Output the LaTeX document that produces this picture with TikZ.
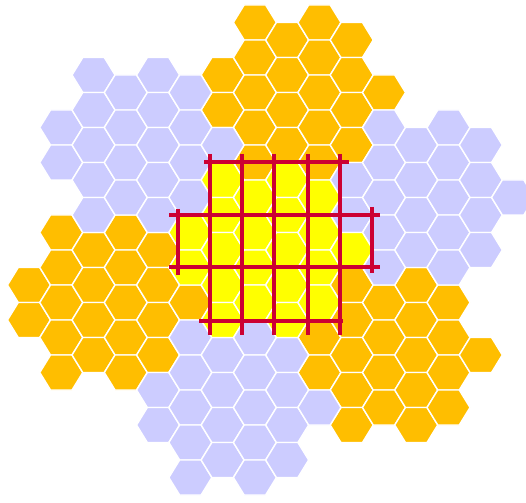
\documentclass[tikz,border=0pt]{standalone}
\definecolor{hexO}{RGB}{255,190,0}
\definecolor{hexL}{RGB}{204,204,255}
\definecolor{hexY}{RGB}{255,255,0}
\definecolor{gridred}{RGB}{204,0,51}
\tikzset{
  hexcell/.style={draw=white, line width=1.4pt, line join=round},
  redline/.style={draw=gridred, line width=3.1pt}
}
\begin{document}
\begin{tikzpicture}[x=1pt,y=-1pt]
\useasboundingbox (0,0) rectangle (526,502);
\foreach \c/\r/\col in {
 0/7/hexO,0/8/hexO, 1/6/hexO,1/7/hexO,1/8/hexO,1/9/hexO,1/10/hexO,
 2/6/hexO,2/7/hexO,2/8/hexO,2/9/hexO, 3/6/hexO,3/7/hexO,3/8/hexO,3/9/hexO,3/10/hexO,
 4/6/hexO,4/7/hexO,4/8/hexO,4/9/hexO, 5/8/hexO, 6/1/hexO,6/2/hexO,
 7/0/hexO,7/1/hexO,7/2/hexO,7/3/hexO,7/4/hexO, 8/0/hexO,8/1/hexO,8/2/hexO,8/3/hexO,
 9/0/hexO,9/1/hexO,9/2/hexO,9/3/hexO,9/4/hexO, 9/9/hexO,9/10/hexO,
 10/0/hexO,10/1/hexO,10/2/hexO,10/3/hexO, 10/7/hexO,10/8/hexO,10/9/hexO,10/10/hexO,10/11/hexO,
 11/2/hexO, 11/8/hexO,11/9/hexO,11/10/hexO,11/11/hexO,
 12/7/hexO,12/8/hexO,12/9/hexO,12/10/hexO,12/11/hexO,
 13/8/hexO,13/9/hexO,13/10/hexO,13/11/hexO, 14/9/hexO,
 1/3/hexL,1/4/hexL, 2/1/hexL,2/2/hexL,2/3/hexL,2/4/hexL,2/5/hexL,
 3/2/hexL,3/3/hexL,3/4/hexL,3/5/hexL, 4/1/hexL,4/2/hexL,4/3/hexL,4/4/hexL,4/5/hexL,
 4/10/hexL,4/11/hexL, 5/2/hexL,5/3/hexL,5/4/hexL,5/5/hexL,
 5/9/hexL,5/10/hexL,5/11/hexL,5/12/hexL,5/13/hexL, 6/3/hexL,
 6/9/hexL,6/10/hexL,6/11/hexL,6/12/hexL, 7/9/hexL,7/10/hexL,7/11/hexL,7/12/hexL,7/13/hexL,
 8/9/hexL,8/10/hexL,8/11/hexL,8/12/hexL, 9/11/hexL, 10/4/hexL,10/5/hexL,
 11/3/hexL,11/4/hexL,11/5/hexL,11/6/hexL,11/7/hexL, 12/3/hexL,12/4/hexL,12/5/hexL,12/6/hexL,
 13/3/hexL,13/4/hexL,13/5/hexL,13/6/hexL,13/7/hexL, 14/3/hexL,14/4/hexL,14/5/hexL,14/6/hexL,
 15/5/hexL,
 5/6/hexY,5/7/hexY, 6/4/hexY,6/5/hexY,6/6/hexY,6/7/hexY,6/8/hexY,
 7/5/hexY,7/6/hexY,7/7/hexY,7/8/hexY, 8/4/hexY,8/5/hexY,8/6/hexY,8/7/hexY,8/8/hexY,
 9/5/hexY,9/6/hexY,9/7/hexY,9/8/hexY, 10/6/hexY}
{
  \pgfmathsetmacro\hx{29+32.27*\c}
  \pgfmathsetmacro\hy{22.5+35*\r+17.5*(1-mod(\c,2))}
  \path[hexcell, fill=\col, shift={(\hx,\hy)}]
    (-21.5,0) -- (-10.75,-17.5) -- (10.75,-17.5) -- (21.5,0) -- (10.75,17.5) -- (-10.75,17.5) -- cycle;
}
% red grid
\coordinate (v1a) at (178,209); \coordinate (v1b) at (178,275);
\coordinate (v2a) at (210,154); \coordinate (v2b) at (210,335);
\coordinate (v3a) at (242,154); \coordinate (v3b) at (242,335);
\coordinate (v4a) at (274,154); \coordinate (v4b) at (274,335);
\coordinate (v5a) at (308,154); \coordinate (v5b) at (308,335);
\coordinate (v6a) at (340,154); \coordinate (v6b) at (340,335);
\coordinate (v7a) at (372,207); \coordinate (v7b) at (372,273);
\coordinate (h1a) at (204,162); \coordinate (h1b) at (349,162);
\coordinate (h2a) at (169,215); \coordinate (h2b) at (380,215);
\coordinate (h3a) at (169,267); \coordinate (h3b) at (380,267);
\coordinate (h4a) at (199,321); \coordinate (h4b) at (343,321);
\foreach \n in {1,...,4} { \draw[redline] (h\n a) -- (h\n b); }
\foreach \n in {1,...,7} { \draw[redline] (v\n a) -- (v\n b); }
\end{tikzpicture}
\end{document}
